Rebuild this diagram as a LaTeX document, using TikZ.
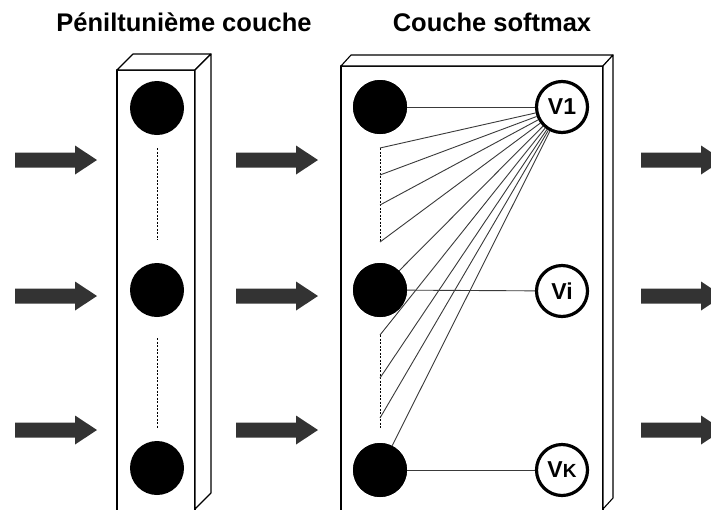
\documentclass[tikz,border=0pt]{standalone}
\usepackage{fontspec}
\setmainfont{Liberation Sans}
\definecolor{arrowgray}{HTML}{333333}
\definecolor{linegray}{HTML}{3A3A3A}
\begin{document}
\begin{tikzpicture}[x=1pt,y=-1pt,
  neuron/.style={circle,fill=black,minimum size=54pt,inner sep=0pt},
  outn/.style={circle,draw=black,line width=3.2pt,fill=white,minimum size=51pt,inner sep=0pt,font=\bfseries\fontsize{23}{23}\selectfont},
  conn/.style={draw=linegray,line width=0.9pt},
  dashline/.style={draw=black,line width=0.8pt,dash pattern=on 2pt off 1.5pt},
  boxline/.style={draw=black,line width=1.1pt,fill=white,line join=round},
  title/.style={font=\bfseries\fontsize{25.5}{30}\selectfont,anchor=base},
  barrow/.pic={\fill[arrowgray] (0,-7.5) -- (60,-7.5) -- (60,-14.5) -- (82,0) -- (60,14.5) -- (60,7.5) -- (0,7.5) -- cycle;}]
\useasboundingbox (0,0) rectangle (711,509);
\clip (0,0) rectangle (711,509);

% titles
\node[title] (t1) at (184,31) {Péniltunième couche};
\node[title] (t2) at (492,31) {Couche softmax};

% arrows
\foreach \y in {160,296,430}{
  \pic at (15,\y) {barrow};
  \pic at (236,\y) {barrow};
  \pic at (641,\y) {barrow};
}

% left box
\draw[boxline] (117,70) rectangle (195,520);
\draw[boxline] (117,70) -- (133,54) -- (211,54) -- (195,70) -- cycle;
\draw[boxline] (195,70) -- (211,54) -- (211,493) -- (195,509) -- cycle;

% right box
\draw[boxline] (341,66) rectangle (603,520);
\draw[boxline] (341,66) -- (351,55) -- (613,55) -- (603,66) -- cycle;
\draw[boxline] (603,66) -- (613,55) -- (613,498) -- (603,509) -- cycle;

% left neurons
\node[neuron] (L1) at (157,108) {};
\node[neuron] (L2) at (157,290) {};
\node[neuron] (L3) at (157,468) {};
\coordinate (ld1) at (157,148);
\coordinate (ld2) at (157,240);
\coordinate (ld3) at (157,338);
\coordinate (ld4) at (157,428);
\draw[dashline] (ld1) -- (ld2);
\draw[dashline] (ld3) -- (ld4);

% right neurons
\node[neuron] (R1) at (380,107) {};
\node[neuron] (R2) at (380,290) {};
\node[neuron] (R3) at (380,470) {};
\node[outn] (V1) at (562,107) {V1};
\node[outn] (Vi) at (562,291) {Vi};
\node[outn] (VK) at (562,470) {V{\fontsize{19}{19}\selectfont K}};

\coordinate (a1) at (380,148);
\coordinate (a2) at (380,175);
\coordinate (a3) at (380,205);
\coordinate (a4) at (380,242);
\coordinate (b1) at (380,335);
\coordinate (b2) at (380,378);
\coordinate (b3) at (380,418);
\coordinate (b4) at (380,428);
\draw[dashline] (a1) -- (a4);
\draw[dashline] (b1) -- (b4);

\draw[conn] (R1) -- (V1);
\draw[conn] (R2) -- (Vi);
\draw[conn] (R3) -- (VK);
\foreach \p in {a1,a2,a3,a4,b1,b2,b3}{
  \draw[conn] (\p) -- (V1);
}
\draw[conn] (R2) -- (V1);
\draw[conn] (R3) -- (V1);

% redraw the right neurons over the connector ends
\node[neuron] at (R1) {};
\node[neuron] at (R2) {};
\node[neuron] at (R3) {};
\end{tikzpicture}
\end{document}
